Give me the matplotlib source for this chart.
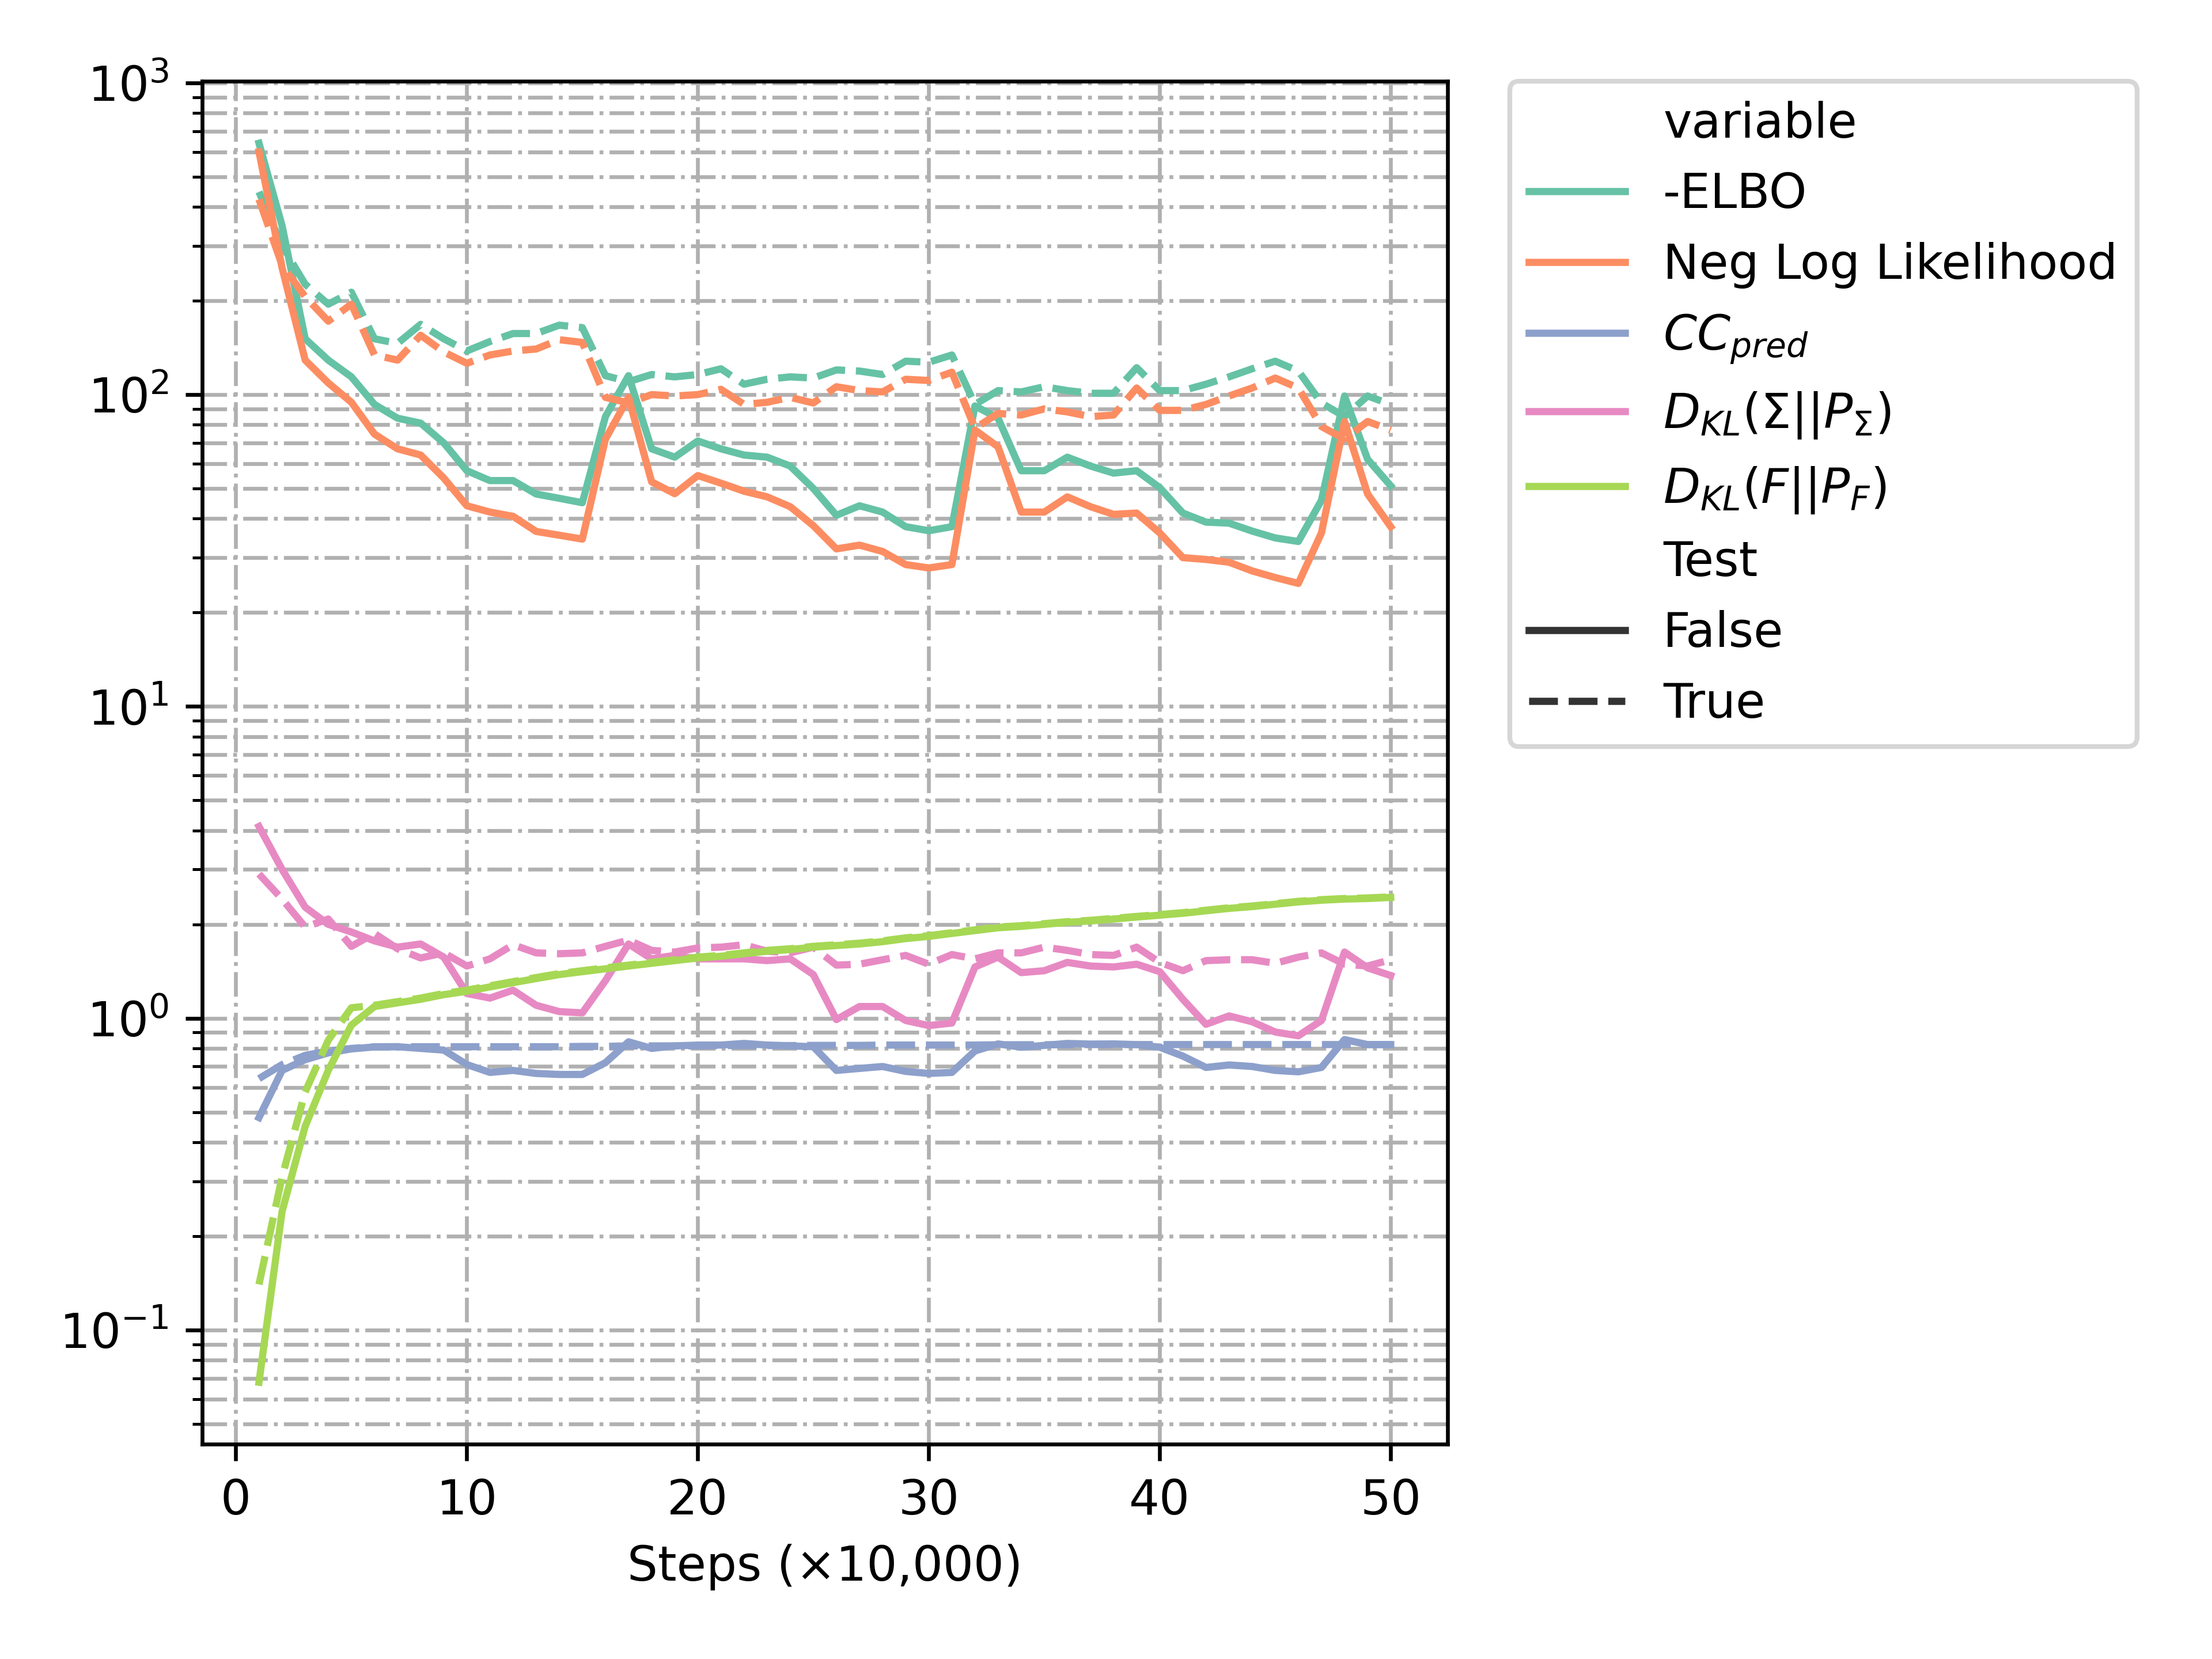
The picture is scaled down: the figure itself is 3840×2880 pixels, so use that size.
import numpy as np
import pandas as pd
import seaborn as sns
import matplotlib.pyplot as plt

steps = list(range(1, 51))

# train (Test=False) curves
elbo_train = [640, 348, 151, 129, 114, 93, 84, 81, 70, 57,
              53, 53, 48, 46.5, 45, 85, 115, 67, 63, 71,
              67, 64, 63, 59, 50, 41, 44, 42, 37.7, 36.6,
              37.7, 92, 84, 57, 57, 63, 59, 56, 57, 50.3,
              41.7, 39, 38.7, 36.5, 34.7, 33.8, 45.8, 99, 62, 51]
nll_train = [601, 255, 129, 109, 94.5, 74.7, 67, 64, 54, 44,
             42, 40.7, 36.4, 35.4, 34.4, 72, 98, 52.5, 48.1, 55,
             52, 49, 47, 43.7, 38, 32, 32.9, 31.4, 28.5, 27.8,
             28.5, 77, 68, 42, 42, 47, 43.7, 41.3, 41.7, 36,
             30, 29.6, 29, 27.2, 25.9, 24.8, 36, 82, 48, 37.7]
cc_train = [0.48, 0.68, 0.736, 0.774, 0.797, 0.809, 0.81, 0.80, 0.79, 0.71,
            0.67, 0.68, 0.665, 0.66, 0.66, 0.72, 0.84, 0.80, 0.815, 0.82,
            0.82, 0.83, 0.82, 0.815, 0.81, 0.68, 0.69, 0.70, 0.675, 0.665,
            0.67, 0.785, 0.827, 0.807, 0.818, 0.83, 0.826, 0.827, 0.823, 0.807,
            0.756, 0.695, 0.708, 0.70, 0.68, 0.673, 0.695, 0.854, 0.823, 0.823]
kl_sigma_train = [4.12, 3.0, 2.27, 2.0, 1.89, 1.77, 1.69, 1.73, 1.57, 1.2,
                  1.16, 1.23, 1.10, 1.05, 1.04, 1.32, 1.73, 1.55, 1.59, 1.55,
                  1.55, 1.55, 1.53, 1.55, 1.38, 0.99, 1.09, 1.09, 0.983, 0.947,
                  0.965, 1.46, 1.57, 1.40, 1.42, 1.51, 1.47, 1.46, 1.49, 1.41,
                  1.15, 0.956, 1.017, 0.974, 0.903, 0.878, 0.983, 1.63, 1.45, 1.37]
kl_f_train = [0.068, 0.24, 0.45, 0.68, 0.95, 1.09, 1.12, 1.15, 1.19, 1.22,
              1.26, 1.30, 1.34, 1.38, 1.41, 1.44, 1.47, 1.50, 1.53, 1.56,
              1.58, 1.61, 1.64, 1.66, 1.69, 1.71, 1.73, 1.76, 1.80, 1.83,
              1.87, 1.91, 1.95, 1.97, 2.00, 2.03, 2.05, 2.08, 2.11, 2.14,
              2.17, 2.21, 2.25, 2.28, 2.32, 2.36, 2.39, 2.41, 2.42, 2.44]

# test (Test=True) curves
elbo_test = [447, 300, 226, 195, 213, 151, 146, 168, 151, 138,
             148, 157, 157, 167, 164, 115, 110, 116, 114, 116,
             121, 108, 112, 114, 113, 120, 119, 116, 128, 127,
             134, 93, 103, 102, 106, 103, 101, 101, 122, 103,
             103, 108, 114, 121, 128, 119, 94, 85, 99, 93]
nll_test = [423, 260, 206, 172, 195, 134, 129, 155, 137, 126,
            134, 138, 140, 150, 147, 98, 94, 100, 99, 100,
            104, 93, 94.5, 98, 94, 106, 103, 102, 112, 111,
            118, 78, 87, 86, 90, 88, 85, 86, 105, 89,
            89, 93, 99, 105, 113, 105, 79, 72, 82, 77]
cc_test = [0.64, 0.71, 0.76, 0.785, 0.80, 0.81, 0.81, 0.81, 0.81, 0.81,
           0.81, 0.81, 0.81, 0.81, 0.812, 0.812, 0.815, 0.815, 0.815, 0.815,
           0.817, 0.817, 0.817, 0.817, 0.818, 0.818, 0.818, 0.82, 0.82, 0.82,
           0.82, 0.82, 0.822, 0.822, 0.822, 0.822, 0.823, 0.823, 0.823, 0.823,
           0.823, 0.823, 0.823, 0.823, 0.823, 0.823, 0.823, 0.823, 0.823, 0.823]
kl_sigma_test = [2.9, 2.41, 1.96, 2.08, 1.70, 1.87, 1.67, 1.56, 1.62, 1.47,
                 1.55, 1.72, 1.62, 1.61, 1.62, 1.70, 1.78, 1.65, 1.63, 1.68,
                 1.69, 1.72, 1.64, 1.62, 1.69, 1.48, 1.49, 1.54, 1.59, 1.49,
                 1.60, 1.55, 1.62, 1.62, 1.69, 1.65, 1.60, 1.59, 1.69, 1.51,
                 1.42, 1.53, 1.54, 1.54, 1.50, 1.57, 1.62, 1.49, 1.47, 1.54]
kl_f_test = [0.14, 0.31, 0.58, 0.85, 1.08, 1.10, 1.13, 1.16, 1.20, 1.23,
             1.27, 1.31, 1.35, 1.39, 1.42, 1.45, 1.48, 1.51, 1.54, 1.57,
             1.59, 1.62, 1.65, 1.67, 1.70, 1.72, 1.74, 1.77, 1.81, 1.84,
             1.88, 1.92, 1.96, 1.98, 2.01, 2.04, 2.06, 2.09, 2.12, 2.15,
             2.18, 2.22, 2.26, 2.29, 2.33, 2.37, 2.40, 2.42, 2.43, 2.45]

labels = ['-ELBO', 'Neg Log Likelihood', r'$CC_{pred}$',
          r'$D_{KL}(\Sigma||P_{\Sigma})$', r'$D_{KL}(F||P_F)$']
train = [elbo_train, nll_train, cc_train, kl_sigma_train, kl_f_train]
test = [elbo_test, nll_test, cc_test, kl_sigma_test, kl_f_test]

rows = []
for name, tr, te in zip(labels, train, test):
    for s, v in zip(steps, tr):
        rows.append((s, name, v, False))
    for s, v in zip(steps, te):
        rows.append((s, name, v, True))
df = pd.DataFrame(rows, columns=['step', 'variable', 'value', 'Test'])

fig = plt.figure(figsize=(6.4, 4.8), dpi=600)
ax = fig.add_axes([0.0915, 0.1295, 0.5628, 0.8215])

sns.lineplot(data=df, x='step', y='value', hue='variable', style='Test',
             hue_order=labels, style_order=[False, True],
             palette='Set2', ax=ax)
ax.set_yscale('log')
# same dash-dot grid for major and minor ticks
ax.grid(True, which='both', linestyle='-.', linewidth=0.8)
ax.set_xlabel('Steps (×10,000)')
ax.set_ylabel('')
ax.legend(bbox_to_anchor=(1.05, 1), loc='upper left', borderaxespad=0)

fig.savefig('out.png', dpi=600)
